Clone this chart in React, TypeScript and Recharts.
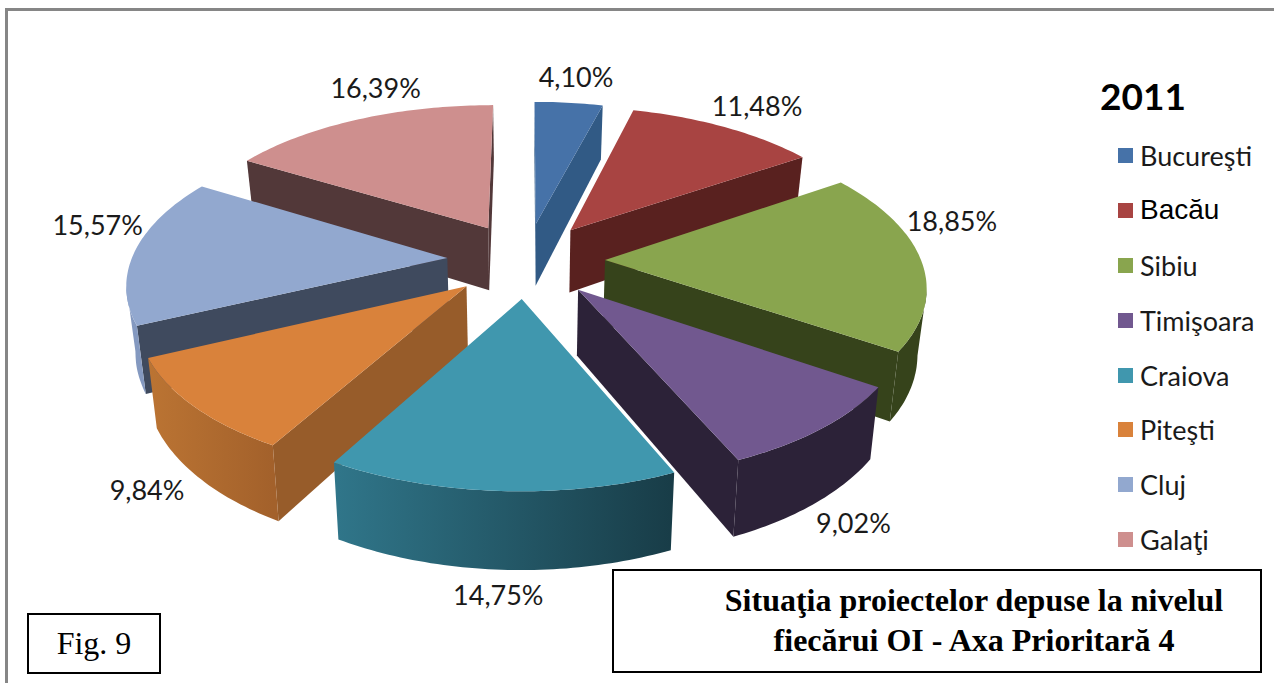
import { PieChart, Pie, Legend } from 'recharts'

const categories = ['Bucureşti', 'Bacău', 'Sibiu', 'Timişoara', 'Craiova', 'Piteşti', 'Cluj', 'Galaţi']
const shares = [4.1, 11.48, 18.85, 9.02, 14.75, 9.84, 15.57, 16.39]
const topColors = ['#4672a8', '#a84442', '#89a54e', '#71588f', '#4097ae', '#d9823b', '#92a8cf', '#ce8f8e']
const cutColors = ['#315a85', '#59211f', '#36431b', '#2c2238', '#1f4a57', '#975c2a', '#3f4a5e', '#523839']
const rimFrom = ['#315a85', '#59211f', '#36431b', '#2c2238', '#30768a', '#bb7433', '#8499c0', '#523839']
const rimTo = ['#315a85', '#59211f', '#36431b', '#2c2238', '#183c47', '#a3612b', '#8499c0', '#523839']

const rows = categories.map((name, i) => ({
  name,
  value: shares[i],
  fill: topColors[i],
  cut: cutColors[i],
  rimFrom: rimFrom[i],
  rimTo: rimTo[i],
}))
const rowsBackwards = [...rows].reverse()

const CX = 526
const CY = 260
const RADIUS = 316
const TILT = 0.476 // vertical squash of the pie plane
const PERSPECTIVE = 0.15
const EXPLODE = 0.25
const DEPTH = 64
const BOTTOM_SHRINK = 0.977

const rad = (d: number) => (d * Math.PI) / 180

// X, Z are in the pie plane, 1 = outer radius, Z grows to the back
function project(X: number, Z: number) {
  const s = 1 / (1 + PERSPECTIVE * Z)
  return { x: CX + RADIUS * X * s, y: CY - RADIUS * TILT * Z * s, s }
}

function under(p: { x: number; y: number; s: number }) {
  return { x: CX + (p.x - CX) * BOTTOM_SHRINK, y: p.y + DEPTH * p.s, s: p.s }
}

const toPath = (pts: { x: number; y: number }[]) =>
  'M' + pts.map((p) => `${p.x.toFixed(1)},${p.y.toFixed(1)}`).join('L') + 'Z'

function outline(props: any) {
  // the backwards pie runs the other way round, so sort the two angles
  const from = 90 - Math.max(props.startAngle, props.endAngle)
  const to = 90 - Math.min(props.startAngle, props.endAngle)
  const mid = rad((from + to) / 2)
  const ox = EXPLODE * Math.sin(mid)
  const oz = EXPLODE * Math.cos(mid)
  const apex = project(ox, oz)
  const rim = []
  const steps = Math.max(2, Math.ceil(to - from))
  for (let i = 0; i <= steps; i++) {
    const t = rad(from + ((to - from) * i) / steps)
    rim.push(project(ox + Math.sin(t), oz + Math.cos(t)))
  }
  return { apex, rim, midDeg: (from + to) / 2 }
}

// the cut faces, only the ones that look at the viewer
function cutFaces(props: any, wantLeft: boolean) {
  const { apex, rim, midDeg } = outline(props)
  if (midDeg > 180 !== wantLeft) return <g />
  const first = rim[0]
  const last = rim[rim.length - 1]
  const faces = []
  if (first.x < apex.x) faces.push([apex, first, under(first), under(apex)])
  if (apex.x < last.x) faces.push([last, apex, under(apex), under(last)])
  return (
    <g>
      {faces.map((f, i) => (
        <path key={i} d={toPath(f)} fill={props.payload.cut} />
      ))}
    </g>
  )
}

const LeftCuts = (props: any) => cutFaces(props, true)
const RightCuts = (props: any) => cutFaces(props, false)

// last pass: outer wall and top face
function TopFace(props: any) {
  const { apex, rim } = outline(props)
  const visible = []
  for (let i = 0; i < rim.length - 1; i++) {
    if (rim[i + 1].x < rim[i].x) {
      if (!visible.length) visible.push(rim[i])
      visible.push(rim[i + 1])
    }
  }
  const id = `rim-${Math.round(props.startAngle + 360)}`
  const wall = visible.length ? [...visible, ...visible.map(under).reverse()] : null
  const xs = visible.map((p) => p.x)
  return (
    <g>
      {wall && (
        <>
          <defs>
            <linearGradient
              id={id}
              gradientUnits="userSpaceOnUse"
              x1={Math.min(...xs)}
              x2={Math.max(...xs)}
              y1={0}
              y2={0}
            >
              <stop offset="0" stopColor={props.payload.rimFrom} />
              <stop offset="1" stopColor={props.payload.rimTo} />
            </linearGradient>
          </defs>
          <path d={toPath(wall)} fill={`url(#${id})`} />
        </>
      )}
      <path d={toPath([apex, ...rim])} fill={props.fill} />
    </g>
  )
}

function SliceLabel(props: any) {
  const t = 90 - props.midAngle
  // labels on the sides and back left sit higher than the slice middle
  const turn = t > 250 ? 7 : t > 200 ? 2 : t > 60 && t < 120 ? -11 : 0
  const b = rad(t + turn)
  const c = Math.cos(b)
  const r = 1.41 + (c > 0 ? 0.1 : 0.06) * c
  const p = project(r * Math.sin(b), r * c)
  const y = c < 0 ? p.y + DEPTH * p.s : p.y
  return (
    <text
      x={p.x}
      y={y}
      textAnchor="middle"
      dominantBaseline="central"
      fontFamily="Lato"
      fontSize={27}
      fill="#1a1a1a"
    >
      {props.value.toFixed(2).replace('.', ',')}%
    </text>
  )
}

function LegendBlock({ payload }: any) {
  // every pass adds its slices to the payload, keep one of each in data order
  const items = categories.map((name) => (payload ?? []).find((item: any) => item.value === name)).filter(Boolean)
  return (
    <div style={{ fontFamily: 'Lato', color: '#1a1a1a' }}>
      <div style={{ fontWeight: 700, fontSize: 37, lineHeight: '44px', marginLeft: -18, height: 54, color: '#000' }}>2011</div>
      {items.map((item: any) => (
        <div key={item.value} style={{ height: 54.9, display: 'flex', alignItems: 'center' }}>
          <span style={{ width: 15, height: 15, background: item.color, marginRight: 7, flex: 'none' }} />
          <span
            style={
              item.value === 'Bacău'
                ? { fontFamily: 'Liberation Sans', fontSize: 28, color: '#000' }
                : { fontSize: 27 }
            }
          >
            {item.value}
          </span>
        </div>
      ))}
    </div>
  )
}

const boxStyle = {
  position: 'absolute',
  boxSizing: 'border-box',
  border: '2px solid #000',
  background: '#fff',
  fontFamily: 'Liberation Serif',
  color: '#000',
  textAlign: 'center',
} as const

export default function App() {
  return (
    <div style={{ position: 'absolute', left: 0, top: 0, width: 1274, height: 683, background: '#fff', overflow: 'hidden' }}>
      <div style={{ position: 'absolute', left: 5, top: 8, right: 0, bottom: 0, borderTop: '3px solid #868686', borderLeft: '3px solid #868686' }} />
      <PieChart width={1274} height={683} style={{ position: 'absolute', left: 0, top: 0 }}>
        <Pie
          data={rowsBackwards}
          dataKey="value"
          nameKey="name"
          cx={CX}
          cy={CY}
          outerRadius={RADIUS}
          startAngle={-270}
          endAngle={90}
          shape={LeftCuts}
          legendType="none"
          isAnimationActive={false}
        />
        <Pie
          data={rows}
          dataKey="value"
          nameKey="name"
          cx={CX}
          cy={CY}
          outerRadius={RADIUS}
          startAngle={90}
          endAngle={-270}
          shape={RightCuts}
          legendType="none"
          isAnimationActive={false}
        />
        <Pie
          data={rows}
          dataKey="value"
          nameKey="name"
          cx={CX}
          cy={CY}
          outerRadius={RADIUS}
          startAngle={90}
          endAngle={-270}
          shape={TopFace}
          label={SliceLabel}
          labelLine={false}
          isAnimationActive={false}
        />
        <Legend
          content={LegendBlock}
          layout="vertical"
          itemSorter={null}
          wrapperStyle={{ position: 'absolute', left: 1118, top: 74, width: 156, bottom: 'auto' }}
        />
      </PieChart>
      <div style={{ ...boxStyle, left: 27, top: 613, width: 134, height: 61, fontSize: 32, lineHeight: '57px' }}>Fig. 9</div>
      <div
        style={{
          ...boxStyle,
          left: 612,
          top: 569,
          width: 650,
          height: 104,
          fontSize: 32,
          fontWeight: 700,
          lineHeight: '40px',
          padding: '9px 0 0 74px',
        }}
      >
        Situaţia proiectelor depuse la nivelul
        <br />
        fiecărui OI - Axa Prioritară 4
      </div>
    </div>
  )
}
